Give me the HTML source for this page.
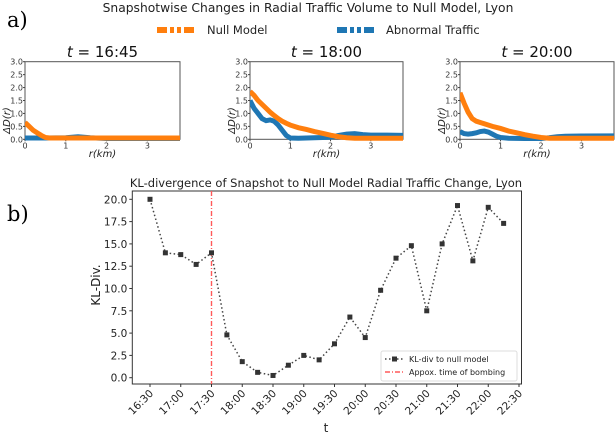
<!DOCTYPE html>
<html><head><meta charset="utf-8"><style>
body{margin:0;background:#fff;}
svg{display:block;font-family:"DejaVu Sans","Liberation Sans",sans-serif;}
</style></head><body>
<svg id="fig" width="616" height="433" viewBox="0 0 616 433">
<text x="7" y="27" font-family="DejaVu Serif,Liberation Serif,serif" font-size="21">a)</text>
<text x="7" y="221" font-family="DejaVu Serif,Liberation Serif,serif" font-size="21">b)</text>
<text x="308" y="12" text-anchor="middle" font-size="12.3" fill="#222">Snapshotwise Changes in Radial Traffic Volume to Null Model, Lyon</text>
<g>
<line x1="157" y1="30" x2="196" y2="30" stroke="#ff7f0e" stroke-width="6" stroke-dasharray="10,3,4,3,4,3"/>
<text x="207" y="34" font-size="11.5" fill="#222">Null Model</text>
<line x1="337" y1="30" x2="376" y2="30" stroke="#1f77b4" stroke-width="6" stroke-dasharray="10,3,4,3,4,3"/>
<text x="386" y="34" font-size="11.5" fill="#222">Abnormal Traffic</text>
</g>
<g id="topg"></g>
<g id="bottomg"></g>
</svg>
<script>
// Top panels data
const panelTitles=["16:45","18:00","20:00"];
const r1n=[0,0.1,0.2,0.3,0.4,0.5,0.6,3.8];
const v1n=[0.65,0.5,0.35,0.25,0.15,0.07,0.05,0.05];
const r1a=[0,0.5,1.0,1.3,1.6,2.0,3.8];
const v1a=[0.05,0.05,0.06,0.1,0.06,0.03,0.03];
const r2n=[0,0.1,0.2,0.3,0.4,0.5,0.6,0.7,0.8,0.9,1.0,1.2,1.4,1.6,1.8,2.0,2.2,2.4,2.6,3.8];
const v2n=[1.85,1.7,1.5,1.35,1.2,1.05,0.92,0.8,0.7,0.62,0.55,0.45,0.38,0.3,0.23,0.16,0.1,0.06,0.04,0.04];
const r2a=[0,0.1,0.2,0.3,0.4,0.5,0.6,0.7,0.8,0.9,1.0,1.2,1.6,2.0,2.2,2.4,2.6,2.8,3.0,3.4,3.8];
const v2a=[1.5,1.2,1.0,0.8,0.72,0.75,0.7,0.55,0.35,0.15,0.05,0.04,0.06,0.08,0.15,0.2,0.22,0.18,0.16,0.16,0.15];
const r3n=[0,0.1,0.2,0.3,0.4,0.5,0.6,0.8,1.0,1.2,1.4,1.6,1.8,2.0,2.2,3.8];
const v3n=[1.8,1.4,1.05,0.8,0.7,0.65,0.6,0.5,0.42,0.32,0.25,0.18,0.12,0.07,0.04,0.04];
const r3a=[0,0.1,0.2,0.3,0.4,0.5,0.6,0.7,0.8,0.9,1.0,1.2,1.6,2.0,2.2,2.4,2.6,3.0,3.8];
const v3a=[0.3,0.22,0.2,0.22,0.25,0.3,0.32,0.28,0.2,0.12,0.07,0.04,0.03,0.03,0.06,0.1,0.12,0.13,0.13];
const yTicksTop=["0.0","0.5","1.0","1.5","2.0","2.5","3.0"];
const xTicksTop=["0","1","2","3"];
// Bottom chart data
const times=["16:30","16:45","17:00","17:15","17:30","17:45","18:00","18:15","18:30","18:45","19:00","19:15","19:30","19:45","20:00","20:15","20:30","20:45","21:00","21:15","21:30","21:45","22:00","22:15"];
const klValues=[20,14,13.8,12.7,14,4.8,1.8,0.6,0.25,1.4,2.5,2,3.8,6.8,4.5,9.8,13.4,14.8,7.5,15,19.3,13.1,19.1,17.3];
const xTickLabels=["16:30","17:00","17:30","18:00","18:30","19:00","19:30","20:00","20:30","21:00","21:30","22:00","22:30"];
const yTickValues=[0,2.5,5,7.5,10,12.5,15,17.5,20];
const bombingIndex=4;

const NS="http://www.w3.org/2000/svg";
function mk(tag,attrs,parent,txt){const e=document.createElementNS(NS,tag);for(const k in attrs)e.setAttribute(k,attrs[k]);if(txt!==undefined)e.textContent=txt;parent.appendChild(e);return e;}

const topG=document.getElementById('topg');
const panels=[{x0:25,x1:180,rn:r1n,vn:v1n,ra:r1a,va:v1a},{x0:250,x1:403,rn:r2n,vn:v2n,ra:r2a,va:v2a},{x0:460,x1:614,rn:r3n,vn:v3n,ra:r3a,va:v3a}];
const yT0=139.3,yT1=61.7;
panels.forEach((p,i)=>{
  const g=mk('g',{},topG);
  
  
  const sx=r=>p.x0+r*(p.x1-p.x0)/3.8;
  const sy=v=>yT0-v*(yT0-yT1)/3;
  const frame=mk('rect',{x:p.x0,y:yT1,width:p.x1-p.x0,height:yT0-yT1,fill:'none',stroke:'#555','stroke-width':1},g);
  
  
  const tt=mk('text',{x:(p.x0+p.x1)/2,y:57,'text-anchor':'middle','font-size':15,fill:'#111'},g);
  
  
  mk('tspan',{'font-style':'italic'},tt,'t');
  mk('tspan',{},tt,' = '+panelTitles[i]);
  yTicksTop.forEach((l,k)=>{
    const y=sy(+l);
    mk('line',{x1:p.x0-2,x2:p.x0,y1:y,y2:y,stroke:'#444'},g);
    const t=mk('text',{x:p.x0-2,y:y+3,'text-anchor':'end','font-size':8,fill:'#333'},g,l);
    
    
  });
  xTicksTop.forEach(l=>{
    const x=sx(+l);
    mk('line',{x1:x,x2:x,y1:yT0,y2:yT0+2,stroke:'#444'},g);
    const t=mk('text',{x:x,y:yT0+9,'text-anchor':'middle','font-size':8,fill:'#333'},g,l);
    
    
  });
  const xl=mk('text',{x:(p.x0+p.x1)/2,y:157,'text-anchor':'middle','font-size':10,'font-style':'italic',fill:'#222'},g,'r(km)');
  
  
  const yl=mk('text',{x:0,y:0,'text-anchor':'middle','font-size':10,'font-style':'italic',fill:'#222',transform:`translate(${p.x0-15},${(yT0+yT1)/2+20}) rotate(-90)`},g,'ΔD(r)');
  
  
  const cp='cp'+i;
  const cl=mk('clipPath',{id:cp},g);mk('rect',{x:p.x0,y:yT1,width:p.x1-p.x0,height:yT0-yT1+3},cl);
  const la=mk('polyline',{points:p.ra.map((r,k)=>sx(r)+','+sy(p.va[k])).join(' '),fill:'none',stroke:'#1f77b4','stroke-width':5,'clip-path':`url(#${cp})`},g);
  
  
  const ln=mk('polyline',{points:p.rn.map((r,k)=>sx(r)+','+sy(p.vn[k])).join(' '),fill:'none',stroke:'#ff7f0e','stroke-width':5,'clip-path':`url(#${cp})`},g);
  
  
});

// Bottom chart
const bG=document.getElementById('bottomg');
const L=132.3,R=521.5,T=191,B=384;
const bx=i=>150+i*(519-150)/24;
const by=v=>377.7-v*(377.7-199.3)/20;
const bt=mk('text',{x:326,y:187,'text-anchor':'middle','font-size':11.5,fill:'#222'},bG,'KL-divergence of Snapshot to Null Model Radial Traffic Change, Lyon');


const fr=mk('rect',{x:L,y:T,width:R-L,height:B-T,fill:'none',stroke:'#333','stroke-width':1},bG);


yTickValues.forEach(v=>{
  const y=by(v);
  mk('line',{x1:L-3,x2:L,y1:y,y2:y,stroke:'#333'},bG);
  const t=mk('text',{x:L-5,y:y+4,'text-anchor':'end','font-size':10.5,fill:'#222'},bG,v.toFixed(1));
  
  
});
xTickLabels.forEach((l,k)=>{
  const x=bx(k*2);
  mk('line',{x1:x,x2:x,y1:B,y2:B+3,stroke:'#333'},bG);
  const t=mk('text',{x:0,y:0,'text-anchor':'end','font-size':10.5,fill:'#222',transform:`translate(${x+4},${B+10}) rotate(-45)`},bG,l);
  
  
});
const ylab=mk('text',{x:0,y:0,'text-anchor':'middle','font-size':12,fill:'#222',transform:'translate(100,285) rotate(-90)'},bG,'KL-Div.');


const xlab=mk('text',{x:326,y:432,'text-anchor':'middle','font-size':12,fill:'#222'},bG,'t');


const vl=mk('line',{x1:bx(bombingIndex),x2:bx(bombingIndex),y1:T,y2:B,stroke:'#ff5a5a','stroke-width':1.4,'stroke-dasharray':'5,2,1,2'},bG);


const kl=mk('polyline',{points:klValues.map((v,i)=>bx(i)+','+by(v)).join(' '),fill:'none',stroke:'#444','stroke-width':1.5,'stroke-dasharray':'1.5,2.5'},bG);


klValues.forEach((v,i)=>{
  const m=mk('rect',{x:bx(i)-2.5,y:by(v)-2.5,width:5,height:5,fill:'#333'},bG);
  
  
});
const lg=mk('g',{},bG);


mk('rect',{x:381,y:351,width:136,height:30,fill:'#fff',stroke:'#ddd',rx:2},lg);
mk('line',{x1:385,x2:404,y1:359,y2:359,stroke:'#444','stroke-width':1.5,'stroke-dasharray':'1.5,2.5'},lg);
mk('rect',{x:392,y:356.5,width:5,height:5,fill:'#333'},lg);
const l1=mk('text',{x:409,y:362,'font-size':8,fill:'#222'},lg,'KL-div to null model');


mk('line',{x1:385,x2:404,y1:372,y2:372,stroke:'#ff5a5a','stroke-width':1.4,'stroke-dasharray':'5,2,1,2'},lg);
const l2=mk('text',{x:409,y:375,'font-size':8,fill:'#222'},lg,'Appox. time of bombing');


</script>
</body></html>
